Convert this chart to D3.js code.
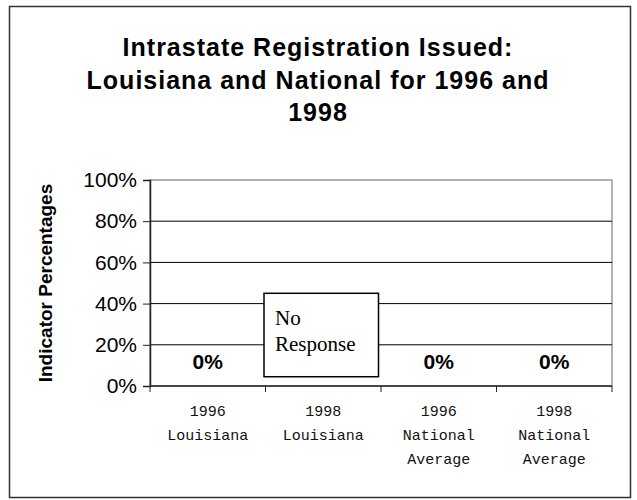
<html>
<head>
<meta charset="utf-8">
<script src="https://cdn.jsdelivr.net/npm/d3@7/dist/d3.min.js"></script>
<style>
  body { margin: 0; background: #fff; }
</style>
</head>
<body>
<div id="chartContainer"></div>
<script>
// chart data
var categories = [["1996", "Louisiana"], ["1998", "Louisiana"], ["1996", "National", "Average"], ["1998", "National", "Average"]];
var values = [0, null, 0, 0];        // null = no response
var yTicks = [0, 20, 40, 60, 80, 100];
var titleLines = ["Intrastate Registration Issued:", "Louisiana and National for 1996 and", "1998"];

var W = 637, H = 500;
var svg = d3.select("#chartContainer").append("svg")
    .attr("width", W).attr("height", H);

// outer frame
svg.append("rect")
    .attr("x", 9.5).attr("y", 6.5)
    .attr("width", 621).attr("height", 491)
    .attr("fill", "#fff").attr("stroke", "#333").attr("stroke-width", 1.5);

var plotL = 150, plotR = 612, plotT = 180, plotB = 386;

var x = d3.scaleBand()
    .domain(categories.map(function (d, i) { return i; }))
    .range([plotL, plotR]);
var y = d3.scaleLinear().domain([0, 100]).range([plotB, plotT]);

// title
svg.append("text")
    .attr("x", 318).attr("y", 56)
    .style("font-family", "Liberation Sans, Arial, sans-serif")
    .style("font-weight", "bold")
    .style("font-size", "25px")
    .style("letter-spacing", "1px")
    .attr("text-anchor", "middle")
    .selectAll("tspan").data(titleLines).enter().append("tspan")
    .attr("x", 318).attr("dy", function (d, i) { return i ? 32.5 : 0; })
    .text(function (d) { return d; });

// plot border (light) and gridlines
svg.append("rect")
    .attr("x", plotL).attr("y", plotT)
    .attr("width", plotR - plotL).attr("height", plotB - plotT)
    .attr("fill", "none").attr("stroke", "#999").attr("stroke-width", 1.5);

svg.append("g").selectAll("line").data(yTicks.filter(function (t) { return t > 0 && t < 100; }))
    .enter().append("line")
    .attr("x1", plotL).attr("x2", plotR)
    .attr("y1", function (d) { return y(d); }).attr("y2", function (d) { return y(d); })
    .attr("stroke", "#000").attr("stroke-width", 1);

// y axis
var yAxis = d3.axisLeft(y).tickValues(yTicks).tickSize(7).tickPadding(6)
    .tickFormat(function (d) { return d + "%"; });
var gy = svg.append("g").attr("transform", "translate(" + plotL + ",0)").call(yAxis);
gy.select(".domain").attr("stroke", "#222").attr("stroke-width", 1.5);
gy.selectAll(".tick line").attr("stroke", "#222");
gy.selectAll("text")
    .style("font-family", "Liberation Sans, Arial, sans-serif")
    .style("font-size", "21px")
    .attr("fill", "#000");

// x axis line and ticks at band edges
var edges = categories.map(function (d, i) { return x(i); }).concat([plotR]);
svg.append("line")
    .attr("x1", plotL).attr("x2", plotR).attr("y1", plotB).attr("y2", plotB)
    .attr("stroke", "#222").attr("stroke-width", 1.5);
svg.append("g").selectAll("line").data(edges).enter().append("line")
    .attr("x1", function (d) { return d; }).attr("x2", function (d) { return d; })
    .attr("y1", plotB).attr("y2", plotB + 6)
    .attr("stroke", "#222");

// x labels
svg.append("g").selectAll("text").data(categories).enter().append("text")
    .attr("y", 416)
    .attr("text-anchor", "middle")
    .style("font-family", "Liberation Mono, Courier New, monospace")
    .style("font-size", "15px")
    .attr("fill", "#111")
    .each(function (d, i) {
        var t = d3.select(this);
        d.forEach(function (line, j) {
            t.append("tspan")
                .attr("x", x(i) + x.bandwidth() / 2)
                .attr("dy", j ? 24 : 0)
                .text(line);
        });
    });

// y axis title
svg.append("text")
    .attr("transform", "translate(52,283) rotate(-90)")
    .attr("text-anchor", "middle")
    .style("font-family", "Liberation Sans, Arial, sans-serif")
    .style("font-weight", "bold")
    .style("font-size", "19px")
    .text("Indicator Percentages");

// value labels, or a note box where there was no response
values.forEach(function (v, i) {
    var cx = x(i) + x.bandwidth() / 2;
    if (v !== null) {
        svg.append("text")
            .attr("x", cx).attr("y", y(v) - 17)
            .attr("text-anchor", "middle")
            .style("font-family", "Liberation Sans, Arial, sans-serif")
            .style("font-weight", "bold")
            .style("font-size", "21px")
            .text(v + "%");
    } else {
        var bx = x(i) - 1.5, bw = x.bandwidth() - 1;
        svg.append("rect")
            .attr("x", bx).attr("y", y(45))
            .attr("width", bw).attr("height", y(4.5) - y(45))
            .attr("fill", "#fff").attr("stroke", "#000").attr("stroke-width", 1.5);
        svg.append("text")
            .attr("x", bx + 11).attr("y", y(45) + 32)
            .style("font-family", "Liberation Serif, Times New Roman, serif")
            .style("font-size", "21px")
            .selectAll("tspan").data(["No", "Response"]).enter().append("tspan")
            .attr("x", bx + 11).attr("dy", function (d, j) { return j ? 26 : 0; })
            .text(function (d) { return d; });
    }
});
</script>
</body>
</html>
